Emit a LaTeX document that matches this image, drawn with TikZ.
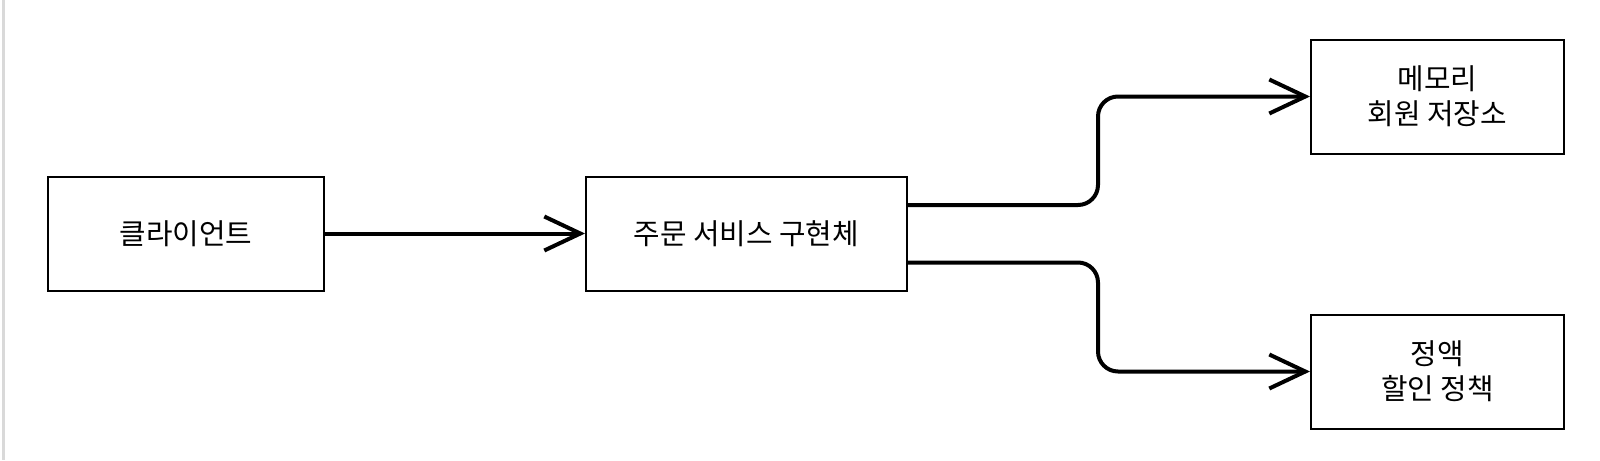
\documentclass[tikz,border=0pt]{standalone}
\usepackage{fontspec}
\setmainfont{Noto Sans CJK KR}
\usetikzlibrary{arrows.meta,positioning}

\begin{document}
\begin{tikzpicture}[
  box/.style={draw, line width=0.04cm, inner sep=0pt, align=center,
    minimum height=2.28cm, font=\fontsize{16.4pt}{20pt}\selectfont},
  flow/.style={line width=0.08cm,
    -{Straight Barb[length=0.72cm, width=0.68cm, line join=miter]}}]
\useasboundingbox (0,0) rectangle (32,-9.2);
\draw[black!15, line width=0.06cm] (0.066,0) -- (0.066,-9.2);

\node[box, minimum width=5.52cm] (client) at (3.72,-4.67) {클라이언트};
\node[box, minimum width=6.42cm, right=5.2cm of client] (order) {주문 서비스 구현체};
\node[box, minimum width=5.06cm, above right=1.58cm and 8.04cm of order.east] (repo) {메모리\\회원 저장소};
\node[box, minimum width=5.06cm, below right=1.6cm and 8.04cm of order.east] (policy) {정액\\할인 정책};

\draw[flow] (client) -- (order);
\draw[flow, rounded corners=0.4cm] ([yshift=0.57cm]order.east) -- ++(3.8cm,0) |- (repo);
\draw[flow, rounded corners=0.4cm] ([yshift=-0.58cm]order.east) -- ++(3.8cm,0) |- (policy);
\end{tikzpicture}
\end{document}
